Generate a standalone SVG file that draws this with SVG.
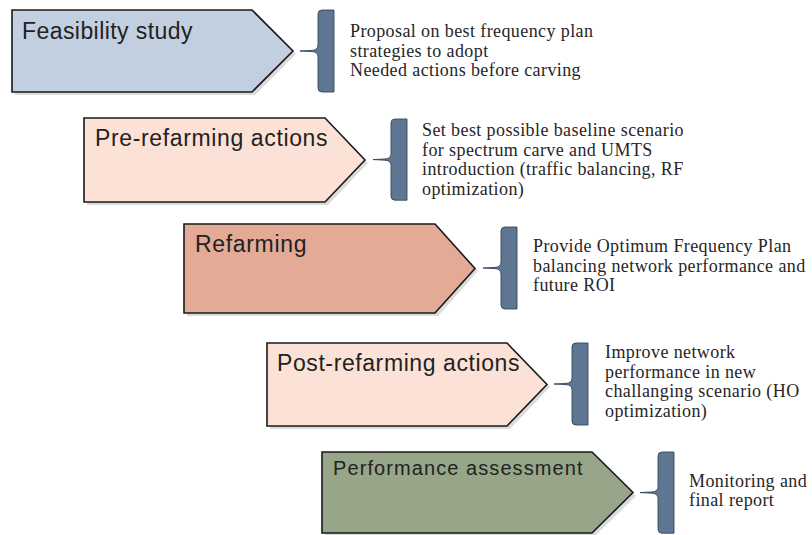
<svg xmlns="http://www.w3.org/2000/svg" xmlns:xlink="http://www.w3.org/1999/xlink" width="812" height="535" viewBox="0 0 812 535">
<style>
.shadow{fill:#000;opacity:0.14}
.box{stroke:#1a1a1a;stroke-width:1.6;stroke-linejoin:miter}
.lbl{font-family:"Liberation Sans",Arial,sans-serif;font-size:23px;fill:#222;letter-spacing:0.5px}
.desc{font-family:"Liberation Serif","Times New Roman",serif;font-size:18px;fill:#262626;letter-spacing:0.4px}
.brace{fill:#5f7693;stroke:#34465a;stroke-width:0.9}
</style>
<defs>
<path id="brace" d="M16,0 H4 Q0,0 0,4 V35 Q0,40 -6,40.4 L-18,41 L-6,41.6 Q0,42 0,47 V78 Q0,82 4,82 H16 Z"/>
</defs>
<rect width="812" height="535" fill="#fff"/>

<g id="feasibility">
<path class="shadow" d="M15,13 H255 L296,54 L255,95 H15 Z"/>
<path class="box" fill="#c2cfe0" d="M12,10 H252 L293,51 L252,92 H12 Z"/>
<text class="lbl" x="22" y="39" textLength="171" lengthAdjust="spacing">Feasibility study</text>
</g>

<g id="pre-refarming">
<path class="shadow" d="M87,121 H328 L368,163 L328,205 H87 Z"/>
<path class="box" fill="#fce2d6" d="M84,118 H325 L365,160 L325,202 H84 Z"/>
<text class="lbl" x="95" y="146" textLength="233" lengthAdjust="spacing">Pre-refarming actions</text>
</g>

<g id="refarming">
<path class="shadow" d="M187,227 H438 L478,271 L438,316 H187 Z"/>
<path class="box" fill="#e3aa95" d="M184,224 H435 L475,268.5 L435,313 H184 Z"/>
<text class="lbl" x="195" y="252" textLength="112" lengthAdjust="spacing">Refarming</text>
</g>

<g id="post-refarming">
<path class="shadow" d="M270,346 H510 L550,387 L510,429 H270 Z"/>
<path class="box" fill="#fce2d6" d="M267,343 H507 L547,384.5 L507,426 H267 Z"/>
<text class="lbl" x="277" y="371" textLength="243" lengthAdjust="spacing">Post-refarming actions</text>
</g>

<g id="performance">
<path class="shadow" d="M325,455 H595 L636,496 L595,536 H325 Z"/>
<path class="box" fill="#97a688" d="M322,452 H592 L633,492.5 L592,533 H322 Z"/>
<text class="lbl" x="333" y="475" style="font-size:20px" textLength="250" lengthAdjust="spacing">Performance assessment</text>
</g>

<g id="connectors">
<use xlink:href="#brace" class="brace" transform="translate(318,10)"/>
<use xlink:href="#brace" class="brace" transform="translate(391,119) scale(1,0.99)"/>
<use xlink:href="#brace" class="brace" transform="translate(501,227)"/>
<use xlink:href="#brace" class="brace" transform="translate(572,343)"/>
<use xlink:href="#brace" class="brace" transform="translate(658,452) scale(1,0.99)"/>
</g>

<g id="desc-1">
<text class="desc" x="350" y="37">Proposal on best frequency plan</text>
<text class="desc" x="350" y="56.5">strategies to adopt</text>
<text class="desc" x="350" y="76">Needed actions before carving</text>
</g>
<g id="desc-2">
<text class="desc" x="422" y="136">Set best possible baseline scenario</text>
<text class="desc" x="422" y="155.5">for spectrum carve and UMTS</text>
<text class="desc" x="422" y="175">introduction (traffic balancing, RF</text>
<text class="desc" x="422" y="194.5">optimization)</text>
</g>
<g id="desc-3">
<text class="desc" x="533" y="252">Provide Optimum Frequency Plan</text>
<text class="desc" x="533" y="271.5">balancing network performance and</text>
<text class="desc" x="533" y="291">future ROI</text>
</g>
<g id="desc-4">
<text class="desc" x="605" y="358">Improve network</text>
<text class="desc" x="605" y="377.5">performance in new</text>
<text class="desc" x="605" y="397">challanging scenario (HO</text>
<text class="desc" x="605" y="416.5">optimization)</text>
</g>
<g id="desc-5">
<text class="desc" x="689" y="487">Monitoring and</text>
<text class="desc" x="689" y="506">final report</text>
</g>
</svg>
